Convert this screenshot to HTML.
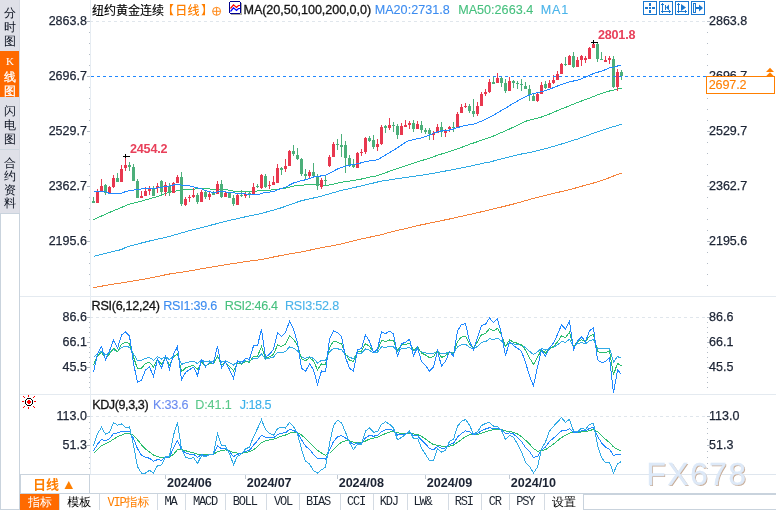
<!DOCTYPE html>
<html><head><meta charset="utf-8"><style>
*{margin:0;padding:0;box-sizing:border-box}
body{width:776px;height:510px;overflow:hidden;background:#fff;position:relative;font-family:'Liberation Sans','Noto Sans CJK SC',sans-serif;}
.t{position:absolute;white-space:nowrap;line-height:16px}
</style></head><body>

<div style="position:absolute;left:0;top:0;width:20px;height:213px;background:#dfe0e8"></div>
<div style="position:absolute;left:19px;top:0;width:1px;height:213px;background:#d6d9e2"></div>
<div style="position:absolute;left:0;top:51px;width:19px;height:46px;background:#ff6a00"></div>
<div style="position:absolute;left:0;top:149px;width:19px;height:1px;background:#cdd6de"></div>
<div style="position:absolute;left:0;top:213px;width:20px;height:297px;border:1px solid #c9d3dd;background:#fff"></div>
<div class="t" style="left:0px;top:6px;width:20px;text-align:center;font-size:12px;line-height:14px;color:#0c1220;font-family:'Liberation Sans','WenQuanYi Zen Hei','Noto Sans CJK SC',sans-serif">分<br>时<br>图</div><div class="t" style="left:0px;top:55.5px;width:20px;text-align:center;font-size:12px;line-height:14px;color:#ffffff;font-family:'Liberation Sans','WenQuanYi Zen Hei','Noto Sans CJK SC',sans-serif"><span style="font-family:Liberation Serif,serif;font-size:11px;position:relative;top:-1.5px">K</span><br><span style="-webkit-text-stroke:0.3px #fff">线</span><br><span style="-webkit-text-stroke:0.3px #fff">图</span></div><div class="t" style="left:0px;top:103.5px;width:20px;text-align:center;font-size:12px;line-height:14px;color:#0c1220;font-family:'Liberation Sans','WenQuanYi Zen Hei','Noto Sans CJK SC',sans-serif">闪<br>电<br>图</div><div class="t" style="left:0px;top:157px;width:20px;text-align:center;font-size:12px;line-height:13.3px;color:#0c1220;font-family:'Liberation Sans','WenQuanYi Zen Hei','Noto Sans CJK SC',sans-serif">合<br>约<br>资<br>料</div>
<svg width="776" height="510" viewBox="0 0 776 510" style="position:absolute;left:0;top:0"><g shape-rendering="crispEdges"><rect x="20" y="296" width="756" height="1" fill="#e4eaf0"/><rect x="20" y="394" width="756" height="1" fill="#e4eaf0"/><rect x="20" y="474" width="756" height="1" fill="#dfe6ee"/><rect x="90" y="0" width="1" height="474" fill="#e6ecf2"/><rect x="87" y="21" width="3" height="1" fill="#b4bcc6"/><rect x="707" y="21" width="3" height="1" fill="#b4bcc6"/><rect x="89" y="32" width="1" height="1" fill="#b4bcc6"/><rect x="707" y="32" width="1" height="1" fill="#b4bcc6"/><rect x="89" y="43" width="1" height="1" fill="#b4bcc6"/><rect x="707" y="43" width="1" height="1" fill="#b4bcc6"/><rect x="89" y="54" width="1" height="1" fill="#b4bcc6"/><rect x="707" y="54" width="1" height="1" fill="#b4bcc6"/><rect x="89" y="65" width="1" height="1" fill="#b4bcc6"/><rect x="707" y="65" width="1" height="1" fill="#b4bcc6"/><rect x="87" y="76" width="3" height="1" fill="#b4bcc6"/><rect x="707" y="76" width="3" height="1" fill="#b4bcc6"/><rect x="89" y="87" width="1" height="1" fill="#b4bcc6"/><rect x="707" y="87" width="1" height="1" fill="#b4bcc6"/><rect x="89" y="98" width="1" height="1" fill="#b4bcc6"/><rect x="707" y="98" width="1" height="1" fill="#b4bcc6"/><rect x="89" y="109" width="1" height="1" fill="#b4bcc6"/><rect x="707" y="109" width="1" height="1" fill="#b4bcc6"/><rect x="89" y="120" width="1" height="1" fill="#b4bcc6"/><rect x="707" y="120" width="1" height="1" fill="#b4bcc6"/><rect x="87" y="131" width="3" height="1" fill="#b4bcc6"/><rect x="707" y="131" width="3" height="1" fill="#b4bcc6"/><rect x="89" y="142" width="1" height="1" fill="#b4bcc6"/><rect x="707" y="142" width="1" height="1" fill="#b4bcc6"/><rect x="89" y="153" width="1" height="1" fill="#b4bcc6"/><rect x="707" y="153" width="1" height="1" fill="#b4bcc6"/><rect x="89" y="164" width="1" height="1" fill="#b4bcc6"/><rect x="707" y="164" width="1" height="1" fill="#b4bcc6"/><rect x="89" y="175" width="1" height="1" fill="#b4bcc6"/><rect x="707" y="175" width="1" height="1" fill="#b4bcc6"/><rect x="87" y="186" width="3" height="1" fill="#b4bcc6"/><rect x="707" y="186" width="3" height="1" fill="#b4bcc6"/><rect x="89" y="197" width="1" height="1" fill="#b4bcc6"/><rect x="707" y="197" width="1" height="1" fill="#b4bcc6"/><rect x="89" y="208" width="1" height="1" fill="#b4bcc6"/><rect x="707" y="208" width="1" height="1" fill="#b4bcc6"/><rect x="89" y="219" width="1" height="1" fill="#b4bcc6"/><rect x="707" y="219" width="1" height="1" fill="#b4bcc6"/><rect x="89" y="230" width="1" height="1" fill="#b4bcc6"/><rect x="707" y="230" width="1" height="1" fill="#b4bcc6"/><rect x="87" y="241" width="3" height="1" fill="#b4bcc6"/><rect x="707" y="241" width="3" height="1" fill="#b4bcc6"/><rect x="89" y="252" width="1" height="1" fill="#b4bcc6"/><rect x="707" y="252" width="1" height="1" fill="#b4bcc6"/><rect x="89" y="263" width="1" height="1" fill="#b4bcc6"/><rect x="707" y="263" width="1" height="1" fill="#b4bcc6"/><rect x="89" y="274" width="1" height="1" fill="#b4bcc6"/><rect x="707" y="274" width="1" height="1" fill="#b4bcc6"/><rect x="89" y="285" width="1" height="1" fill="#b4bcc6"/><rect x="707" y="285" width="1" height="1" fill="#b4bcc6"/><rect x="87" y="317" width="3" height="1" fill="#b4bcc6"/><rect x="707" y="317" width="3" height="1" fill="#b4bcc6"/><rect x="87" y="342" width="3" height="1" fill="#b4bcc6"/><rect x="707" y="342" width="3" height="1" fill="#b4bcc6"/><rect x="87" y="367" width="3" height="1" fill="#b4bcc6"/><rect x="707" y="367" width="3" height="1" fill="#b4bcc6"/><rect x="89" y="322" width="1" height="1" fill="#b4bcc6"/><rect x="707" y="322" width="1" height="1" fill="#b4bcc6"/><rect x="89" y="327" width="1" height="1" fill="#b4bcc6"/><rect x="707" y="327" width="1" height="1" fill="#b4bcc6"/><rect x="89" y="332" width="1" height="1" fill="#b4bcc6"/><rect x="707" y="332" width="1" height="1" fill="#b4bcc6"/><rect x="89" y="337" width="1" height="1" fill="#b4bcc6"/><rect x="707" y="337" width="1" height="1" fill="#b4bcc6"/><rect x="89" y="347" width="1" height="1" fill="#b4bcc6"/><rect x="707" y="347" width="1" height="1" fill="#b4bcc6"/><rect x="89" y="352" width="1" height="1" fill="#b4bcc6"/><rect x="707" y="352" width="1" height="1" fill="#b4bcc6"/><rect x="89" y="357" width="1" height="1" fill="#b4bcc6"/><rect x="707" y="357" width="1" height="1" fill="#b4bcc6"/><rect x="89" y="362" width="1" height="1" fill="#b4bcc6"/><rect x="707" y="362" width="1" height="1" fill="#b4bcc6"/><rect x="89" y="372" width="1" height="1" fill="#b4bcc6"/><rect x="707" y="372" width="1" height="1" fill="#b4bcc6"/><rect x="89" y="377" width="1" height="1" fill="#b4bcc6"/><rect x="707" y="377" width="1" height="1" fill="#b4bcc6"/><rect x="89" y="382" width="1" height="1" fill="#b4bcc6"/><rect x="707" y="382" width="1" height="1" fill="#b4bcc6"/><rect x="89" y="387" width="1" height="1" fill="#b4bcc6"/><rect x="707" y="387" width="1" height="1" fill="#b4bcc6"/><rect x="87" y="416" width="3" height="1" fill="#b4bcc6"/><rect x="707" y="416" width="3" height="1" fill="#b4bcc6"/><rect x="87" y="445" width="3" height="1" fill="#b4bcc6"/><rect x="707" y="445" width="3" height="1" fill="#b4bcc6"/><rect x="89" y="422" width="1" height="1" fill="#b4bcc6"/><rect x="707" y="422" width="1" height="1" fill="#b4bcc6"/><rect x="89" y="428" width="1" height="1" fill="#b4bcc6"/><rect x="707" y="428" width="1" height="1" fill="#b4bcc6"/><rect x="89" y="433" width="1" height="1" fill="#b4bcc6"/><rect x="707" y="433" width="1" height="1" fill="#b4bcc6"/><rect x="89" y="439" width="1" height="1" fill="#b4bcc6"/><rect x="707" y="439" width="1" height="1" fill="#b4bcc6"/><rect x="89" y="451" width="1" height="1" fill="#b4bcc6"/><rect x="707" y="451" width="1" height="1" fill="#b4bcc6"/><rect x="89" y="457" width="1" height="1" fill="#b4bcc6"/><rect x="707" y="457" width="1" height="1" fill="#b4bcc6"/><rect x="89" y="463" width="1" height="1" fill="#b4bcc6"/><rect x="707" y="463" width="1" height="1" fill="#b4bcc6"/><rect x="89" y="468" width="1" height="1" fill="#b4bcc6"/><rect x="707" y="468" width="1" height="1" fill="#b4bcc6"/><rect x="165" y="475" width="1" height="4" fill="#c0c8d2"/><rect x="245" y="475" width="1" height="4" fill="#c0c8d2"/><rect x="337" y="475" width="1" height="4" fill="#c0c8d2"/><rect x="425" y="475" width="1" height="4" fill="#c0c8d2"/><rect x="509" y="475" width="1" height="4" fill="#c0c8d2"/></g><g shape-rendering="crispEdges" stroke="#e0e6ec" stroke-dasharray="3,3"><line x1="90" y1="21.5" x2="705" y2="21.5"/><line x1="90" y1="317.5" x2="705" y2="317.5"/><line x1="90" y1="416.5" x2="705" y2="416.5"/></g><g shape-rendering="crispEdges"><polyline points="93.5,287.6 97.5,286.9 101.5,286.2 105.5,285.4 109.5,284.8 113.5,284.1 117.5,283.5 121.5,282.9 125.5,282.3 129.5,281.7 133.5,281.0 137.5,280.3 141.5,279.6 145.5,278.9 149.5,278.2 153.5,277.3 157.5,276.5 161.5,275.7 165.5,274.8 169.5,274.0 173.5,273.4 177.5,272.8 181.5,272.2 185.5,271.6 189.5,270.9 193.5,270.2 197.5,269.5 201.5,268.8 205.5,268.1 209.5,267.4 213.5,266.8 217.5,266.1 221.5,265.5 225.5,264.8 229.5,264.1 233.5,263.5 237.5,262.9 241.5,262.3 245.5,261.7 249.5,261.1 253.5,260.6 257.5,260.1 261.5,259.5 265.5,258.7 269.5,257.9 273.5,257.0 277.5,256.2 281.5,255.4 285.5,254.7 289.5,254.0 293.5,253.3 297.5,252.6 301.5,251.9 305.5,251.1 309.5,250.2 313.5,249.4 317.5,248.5 321.5,247.7 325.5,247.0 329.5,246.2 333.5,245.5 337.5,244.8 341.5,243.9 345.5,242.9 349.5,241.9 353.5,240.9 357.5,239.9 361.5,238.9 365.5,238.1 369.5,237.2 373.5,236.4 377.5,235.5 381.5,234.6 385.5,233.5 389.5,232.4 393.5,231.4 397.5,230.4 401.5,229.5 405.5,228.6 409.5,227.6 413.5,226.7 417.5,225.7 421.5,224.8 425.5,224.0 429.5,223.1 433.5,222.3 437.5,221.5 441.5,220.7 445.5,219.8 449.5,219.0 453.5,218.1 457.5,217.2 461.5,216.3 465.5,215.4 469.5,214.5 473.5,213.6 477.5,212.7 481.5,211.8 485.5,210.8 489.5,209.8 493.5,208.9 497.5,207.9 501.5,207.0 505.5,206.0 509.5,205.0 513.5,204.0 517.5,202.9 521.5,201.8 525.5,200.7 529.5,199.5 533.5,198.4 537.5,197.3 541.5,196.3 545.5,195.3 549.5,194.4 553.5,193.4 557.5,192.5 561.5,191.5 565.5,190.6 569.5,189.6 573.5,188.6 577.5,187.4 581.5,186.3 585.5,185.2 589.5,184.1 593.5,183.0 597.5,181.8 601.5,180.6 605.5,179.1 609.5,177.6 613.5,176.0 617.5,174.5 621.5,173.0" fill="none" stroke="#f5823a" stroke-width="1" /><polyline points="93.5,256.3 97.5,255.3 101.5,254.3 105.5,253.3 109.5,252.4 113.5,251.4 117.5,250.5 121.5,249.5 125.5,247.5 129.5,246.2 133.5,245.2 137.5,244.1 141.5,243.0 145.5,242.0 149.5,241.0 153.5,240.1 157.5,239.2 161.5,238.3 165.5,237.4 169.5,236.4 173.5,235.2 177.5,234.1 181.5,232.9 185.5,231.8 189.5,230.6 193.5,229.6 197.5,228.6 201.5,227.6 205.5,226.6 209.5,225.5 213.5,224.5 217.5,223.5 221.5,222.4 225.5,221.4 229.5,220.4 233.5,219.5 237.5,218.6 241.5,217.7 245.5,216.8 249.5,215.9 253.5,215.1 257.5,214.3 261.5,213.4 265.5,212.3 269.5,211.2 273.5,210.1 277.5,208.9 281.5,207.7 285.5,206.3 289.5,204.9 293.5,203.4 297.5,202.0 301.5,200.7 305.5,199.8 309.5,198.9 313.5,198.0 317.5,197.1 321.5,196.1 325.5,194.9 329.5,193.8 333.5,192.6 337.5,191.5 341.5,190.4 345.5,189.5 349.5,188.6 353.5,187.7 357.5,186.8 361.5,185.9 365.5,184.9 369.5,183.9 373.5,183.0 377.5,182.0 381.5,181.1 385.5,180.5 389.5,179.9 393.5,179.3 397.5,178.7 401.5,178.1 405.5,177.6 409.5,177.0 413.5,176.4 417.5,175.8 421.5,175.2 425.5,174.6 429.5,174.0 433.5,173.2 437.5,172.5 441.5,171.8 445.5,171.0 449.5,170.3 453.5,169.5 457.5,168.7 461.5,167.9 465.5,167.1 469.5,166.3 473.5,165.4 477.5,164.5 481.5,163.6 485.5,162.7 489.5,162.2 493.5,161.0 497.5,159.9 501.5,158.9 505.5,157.9 509.5,156.8 513.5,155.8 517.5,154.9 521.5,154.0 525.5,153.3 529.5,152.5 533.5,151.7 537.5,150.7 541.5,149.6 545.5,148.6 549.5,147.5 553.5,146.4 557.5,145.2 561.5,144.0 565.5,142.8 569.5,141.4 573.5,140.2 577.5,139.1 581.5,137.6 585.5,136.2 589.5,134.7 593.5,133.2 597.5,131.8 601.5,130.5 605.5,129.1 609.5,127.7 613.5,126.7 617.5,125.5 621.5,124.3" fill="none" stroke="#2eaae4" stroke-width="1" /><polyline points="93.5,219.6 97.5,217.8 101.5,216.0 105.5,214.2 109.5,212.4 113.5,210.7 117.5,209.1 121.5,207.4 125.5,205.7 129.5,204.2 133.5,203.2 137.5,202.2 141.5,201.1 145.5,199.9 149.5,198.8 153.5,197.6 157.5,196.5 161.5,195.0 165.5,193.5 169.5,192.3 173.5,191.4 177.5,190.8 181.5,190.2 185.5,189.5 189.5,189.2 193.5,189.1 197.5,188.9 201.5,188.4 205.5,188.6 209.5,189.0 213.5,189.1 217.5,189.1 221.5,189.1 225.5,189.1 229.5,190.5 233.5,191.1 237.5,191.4 241.5,191.2 245.5,191.2 249.5,191.2 253.5,191.2 257.5,191.0 261.5,190.7 265.5,190.4 269.5,190.1 273.5,189.8 277.5,189.3 281.5,188.7 285.5,188.1 289.5,187.1 293.5,186.1 297.5,185.5 301.5,185.2 305.5,184.9 309.5,184.6 313.5,184.5 317.5,184.6 321.5,184.9 325.5,185.2 329.5,185.0 333.5,184.2 337.5,183.2 341.5,182.2 345.5,181.5 349.5,181.1 353.5,180.5 357.5,179.8 361.5,179.0 365.5,178.1 369.5,177.1 373.5,176.4 377.5,175.7 381.5,174.2 385.5,172.7 389.5,171.3 393.5,169.9 397.5,168.6 401.5,167.3 405.5,165.8 409.5,164.4 413.5,163.1 417.5,161.9 421.5,160.6 425.5,159.4 429.5,158.1 433.5,156.7 437.5,155.3 441.5,154.0 445.5,152.8 449.5,151.4 453.5,150.3 457.5,148.8 461.5,147.4 465.5,145.8 469.5,144.3 473.5,143.0 477.5,141.7 481.5,140.2 485.5,138.7 489.5,137.4 493.5,136.0 497.5,134.3 501.5,132.5 505.5,130.8 509.5,129.0 513.5,127.1 517.5,125.1 521.5,123.2 525.5,121.3 529.5,120.1 533.5,119.2 537.5,118.2 541.5,117.0 545.5,115.6 549.5,114.0 553.5,112.2 557.5,110.6 561.5,108.9 565.5,107.4 569.5,105.7 573.5,104.1 577.5,102.5 581.5,101.0 585.5,99.6 589.5,98.1 593.5,96.5 597.5,94.9 601.5,93.6 605.5,92.3 609.5,91.0 613.5,90.2 617.5,89.2 621.5,88.1" fill="none" stroke="#30be74" stroke-width="1" /></g><g shape-rendering="crispEdges"><rect x="93" y="197" width="1" height="6" fill="#4caf7a"/><rect x="92" y="201" width="3" height="2" fill="#4caf7a"/><rect x="97" y="189" width="1" height="14" fill="#e8384f"/><rect x="96" y="192" width="3" height="11" fill="#e8384f"/><rect x="101" y="179" width="1" height="13" fill="#e8384f"/><rect x="100" y="186" width="3" height="6" fill="#e8384f"/><rect x="105" y="184" width="1" height="11" fill="#4caf7a"/><rect x="104" y="185" width="3" height="8" fill="#4caf7a"/><rect x="109" y="186" width="1" height="7" fill="#e8384f"/><rect x="108" y="187" width="3" height="6" fill="#e8384f"/><rect x="113" y="175" width="1" height="13" fill="#e8384f"/><rect x="112" y="178" width="3" height="9" fill="#e8384f"/><rect x="117" y="173" width="1" height="9" fill="#4caf7a"/><rect x="116" y="178" width="3" height="4" fill="#4caf7a"/><rect x="121" y="165" width="1" height="17" fill="#e8384f"/><rect x="120" y="169" width="3" height="13" fill="#e8384f"/><rect x="125" y="156" width="1" height="15" fill="#e8384f"/><rect x="124" y="165" width="3" height="3" fill="#e8384f"/><rect x="129" y="162" width="1" height="9" fill="#4caf7a"/><rect x="128" y="165" width="3" height="2" fill="#4caf7a"/><rect x="133" y="164" width="1" height="17" fill="#4caf7a"/><rect x="132" y="167" width="3" height="14" fill="#4caf7a"/><rect x="137" y="179" width="1" height="19" fill="#4caf7a"/><rect x="136" y="181" width="3" height="17" fill="#4caf7a"/><rect x="141" y="191" width="1" height="7" fill="#e8384f"/><rect x="140" y="196" width="3" height="2" fill="#e8384f"/><rect x="145" y="187" width="1" height="9" fill="#e8384f"/><rect x="144" y="191" width="3" height="5" fill="#e8384f"/><rect x="149" y="186" width="1" height="9" fill="#e8384f"/><rect x="148" y="189" width="3" height="2" fill="#e8384f"/><rect x="153" y="186" width="1" height="10" fill="#4caf7a"/><rect x="152" y="188" width="3" height="8" fill="#4caf7a"/><rect x="157" y="183" width="1" height="10" fill="#e8384f"/><rect x="156" y="186" width="3" height="2" fill="#e8384f"/><rect x="161" y="180" width="1" height="14" fill="#4caf7a"/><rect x="160" y="181" width="3" height="11" fill="#4caf7a"/><rect x="165" y="182" width="1" height="14" fill="#e8384f"/><rect x="164" y="185" width="3" height="7" fill="#e8384f"/><rect x="169" y="183" width="1" height="13" fill="#4caf7a"/><rect x="168" y="186" width="3" height="6" fill="#4caf7a"/><rect x="173" y="182" width="1" height="11" fill="#e8384f"/><rect x="172" y="183" width="3" height="10" fill="#e8384f"/><rect x="177" y="175" width="1" height="8" fill="#e8384f"/><rect x="176" y="177" width="3" height="6" fill="#e8384f"/><rect x="181" y="172" width="1" height="34" fill="#4caf7a"/><rect x="180" y="177" width="3" height="27" fill="#4caf7a"/><rect x="185" y="197" width="1" height="9" fill="#e8384f"/><rect x="184" y="199" width="3" height="6" fill="#e8384f"/><rect x="189" y="195" width="1" height="7" fill="#e8384f"/><rect x="188" y="197" width="3" height="1" fill="#e8384f"/><rect x="193" y="188" width="1" height="10" fill="#e8384f"/><rect x="192" y="195" width="3" height="2" fill="#e8384f"/><rect x="197" y="193" width="1" height="11" fill="#4caf7a"/><rect x="196" y="195" width="3" height="7" fill="#4caf7a"/><rect x="201" y="190" width="1" height="12" fill="#e8384f"/><rect x="200" y="192" width="3" height="10" fill="#e8384f"/><rect x="205" y="191" width="1" height="8" fill="#4caf7a"/><rect x="204" y="192" width="3" height="5" fill="#4caf7a"/><rect x="209" y="192" width="1" height="8" fill="#e8384f"/><rect x="208" y="194" width="3" height="3" fill="#e8384f"/><rect x="213" y="191" width="1" height="4" fill="#4caf7a"/><rect x="212" y="192" width="3" height="3" fill="#4caf7a"/><rect x="217" y="181" width="1" height="13" fill="#e8384f"/><rect x="216" y="184" width="3" height="10" fill="#e8384f"/><rect x="221" y="180" width="1" height="18" fill="#4caf7a"/><rect x="220" y="184" width="3" height="13" fill="#4caf7a"/><rect x="225" y="192" width="1" height="5" fill="#e8384f"/><rect x="224" y="193" width="3" height="4" fill="#e8384f"/><rect x="229" y="192" width="1" height="6" fill="#4caf7a"/><rect x="228" y="193" width="3" height="5" fill="#4caf7a"/><rect x="233" y="195" width="1" height="11" fill="#4caf7a"/><rect x="232" y="198" width="3" height="6" fill="#4caf7a"/><rect x="237" y="194" width="1" height="11" fill="#e8384f"/><rect x="236" y="195" width="3" height="10" fill="#e8384f"/><rect x="241" y="190" width="1" height="7" fill="#4caf7a"/><rect x="240" y="195" width="3" height="1" fill="#4caf7a"/><rect x="245" y="192" width="1" height="6" fill="#e8384f"/><rect x="244" y="194" width="3" height="2" fill="#e8384f"/><rect x="249" y="192" width="1" height="6" fill="#4caf7a"/><rect x="248" y="193" width="3" height="1" fill="#4caf7a"/><rect x="253" y="183" width="1" height="11" fill="#e8384f"/><rect x="252" y="187" width="3" height="7" fill="#e8384f"/><rect x="257" y="184" width="1" height="4" fill="#4caf7a"/><rect x="256" y="186" width="3" height="1" fill="#4caf7a"/><rect x="261" y="174" width="1" height="15" fill="#e8384f"/><rect x="260" y="175" width="3" height="13" fill="#e8384f"/><rect x="265" y="174" width="1" height="14" fill="#4caf7a"/><rect x="264" y="176" width="3" height="11" fill="#4caf7a"/><rect x="269" y="181" width="1" height="8" fill="#e8384f"/><rect x="268" y="185" width="3" height="1" fill="#e8384f"/><rect x="273" y="176" width="1" height="9" fill="#e8384f"/><rect x="272" y="182" width="3" height="3" fill="#e8384f"/><rect x="277" y="164" width="1" height="19" fill="#e8384f"/><rect x="276" y="168" width="3" height="15" fill="#e8384f"/><rect x="281" y="167" width="1" height="8" fill="#4caf7a"/><rect x="280" y="168" width="3" height="2" fill="#4caf7a"/><rect x="285" y="159" width="1" height="13" fill="#e8384f"/><rect x="284" y="166" width="3" height="3" fill="#e8384f"/><rect x="289" y="150" width="1" height="16" fill="#e8384f"/><rect x="288" y="151" width="3" height="15" fill="#e8384f"/><rect x="293" y="145" width="1" height="11" fill="#4caf7a"/><rect x="292" y="151" width="3" height="3" fill="#4caf7a"/><rect x="297" y="148" width="1" height="12" fill="#4caf7a"/><rect x="296" y="155" width="3" height="4" fill="#4caf7a"/><rect x="301" y="158" width="1" height="18" fill="#4caf7a"/><rect x="300" y="159" width="3" height="15" fill="#4caf7a"/><rect x="305" y="169" width="1" height="10" fill="#4caf7a"/><rect x="304" y="174" width="3" height="2" fill="#4caf7a"/><rect x="309" y="170" width="1" height="8" fill="#e8384f"/><rect x="308" y="172" width="3" height="4" fill="#e8384f"/><rect x="313" y="163" width="1" height="13" fill="#4caf7a"/><rect x="312" y="172" width="3" height="4" fill="#4caf7a"/><rect x="317" y="174" width="1" height="16" fill="#4caf7a"/><rect x="316" y="176" width="3" height="10" fill="#4caf7a"/><rect x="321" y="178" width="1" height="11" fill="#e8384f"/><rect x="320" y="180" width="3" height="7" fill="#e8384f"/><rect x="325" y="175" width="1" height="10" fill="#4caf7a"/><rect x="324" y="180" width="3" height="1" fill="#4caf7a"/><rect x="329" y="155" width="1" height="12" fill="#e8384f"/><rect x="328" y="157" width="3" height="9" fill="#e8384f"/><rect x="333" y="142" width="1" height="15" fill="#e8384f"/><rect x="332" y="144" width="3" height="13" fill="#e8384f"/><rect x="337" y="139" width="1" height="11" fill="#4caf7a"/><rect x="336" y="144" width="3" height="1" fill="#4caf7a"/><rect x="341" y="134" width="1" height="23" fill="#4caf7a"/><rect x="340" y="145" width="3" height="2" fill="#4caf7a"/><rect x="345" y="141" width="1" height="32" fill="#4caf7a"/><rect x="344" y="145" width="3" height="13" fill="#4caf7a"/><rect x="349" y="155" width="1" height="12" fill="#4caf7a"/><rect x="348" y="158" width="3" height="7" fill="#4caf7a"/><rect x="353" y="159" width="1" height="9" fill="#4caf7a"/><rect x="352" y="165" width="3" height="2" fill="#4caf7a"/><rect x="357" y="152" width="1" height="16" fill="#e8384f"/><rect x="356" y="153" width="3" height="15" fill="#e8384f"/><rect x="361" y="149" width="1" height="7" fill="#e8384f"/><rect x="360" y="152" width="3" height="1" fill="#e8384f"/><rect x="365" y="137" width="1" height="17" fill="#e8384f"/><rect x="364" y="138" width="3" height="14" fill="#e8384f"/><rect x="369" y="136" width="1" height="6" fill="#4caf7a"/><rect x="368" y="138" width="3" height="3" fill="#4caf7a"/><rect x="373" y="135" width="1" height="14" fill="#4caf7a"/><rect x="372" y="140" width="3" height="7" fill="#4caf7a"/><rect x="377" y="139" width="1" height="12" fill="#e8384f"/><rect x="376" y="144" width="3" height="3" fill="#e8384f"/><rect x="381" y="125" width="1" height="20" fill="#e8384f"/><rect x="380" y="127" width="3" height="17" fill="#e8384f"/><rect x="385" y="125" width="1" height="8" fill="#4caf7a"/><rect x="384" y="126" width="3" height="2" fill="#4caf7a"/><rect x="389" y="118" width="1" height="12" fill="#e8384f"/><rect x="388" y="125" width="3" height="3" fill="#e8384f"/><rect x="393" y="122" width="1" height="10" fill="#4caf7a"/><rect x="392" y="125" width="3" height="1" fill="#4caf7a"/><rect x="397" y="124" width="1" height="15" fill="#4caf7a"/><rect x="396" y="126" width="3" height="9" fill="#4caf7a"/><rect x="401" y="123" width="1" height="12" fill="#e8384f"/><rect x="400" y="126" width="3" height="9" fill="#e8384f"/><rect x="405" y="120" width="1" height="7" fill="#e8384f"/><rect x="404" y="125" width="3" height="2" fill="#e8384f"/><rect x="409" y="121" width="1" height="8" fill="#e8384f"/><rect x="408" y="123" width="3" height="2" fill="#e8384f"/><rect x="413" y="120" width="1" height="12" fill="#4caf7a"/><rect x="412" y="123" width="3" height="6" fill="#4caf7a"/><rect x="417" y="121" width="1" height="8" fill="#e8384f"/><rect x="416" y="124" width="3" height="5" fill="#e8384f"/><rect x="421" y="121" width="1" height="12" fill="#4caf7a"/><rect x="420" y="125" width="3" height="5" fill="#4caf7a"/><rect x="425" y="128" width="1" height="6" fill="#4caf7a"/><rect x="424" y="130" width="3" height="2" fill="#4caf7a"/><rect x="429" y="128" width="1" height="12" fill="#4caf7a"/><rect x="428" y="130" width="3" height="4" fill="#4caf7a"/><rect x="433" y="131" width="1" height="9" fill="#e8384f"/><rect x="432" y="133" width="3" height="2" fill="#e8384f"/><rect x="437" y="124" width="1" height="9" fill="#e8384f"/><rect x="436" y="127" width="3" height="6" fill="#e8384f"/><rect x="441" y="122" width="1" height="15" fill="#4caf7a"/><rect x="440" y="127" width="3" height="5" fill="#4caf7a"/><rect x="445" y="129" width="1" height="8" fill="#e8384f"/><rect x="444" y="131" width="3" height="2" fill="#e8384f"/><rect x="449" y="126" width="1" height="6" fill="#e8384f"/><rect x="448" y="127" width="3" height="2" fill="#e8384f"/><rect x="453" y="122" width="1" height="10" fill="#4caf7a"/><rect x="452" y="127" width="3" height="1" fill="#4caf7a"/><rect x="457" y="112" width="1" height="16" fill="#e8384f"/><rect x="456" y="114" width="3" height="14" fill="#e8384f"/><rect x="461" y="104" width="1" height="9" fill="#e8384f"/><rect x="460" y="107" width="3" height="6" fill="#e8384f"/><rect x="465" y="103" width="1" height="5" fill="#e8384f"/><rect x="464" y="106" width="3" height="1" fill="#e8384f"/><rect x="469" y="104" width="1" height="9" fill="#4caf7a"/><rect x="468" y="106" width="3" height="5" fill="#4caf7a"/><rect x="473" y="99" width="1" height="18" fill="#4caf7a"/><rect x="472" y="111" width="3" height="3" fill="#4caf7a"/><rect x="477" y="102" width="1" height="14" fill="#e8384f"/><rect x="476" y="106" width="3" height="8" fill="#e8384f"/><rect x="481" y="92" width="1" height="14" fill="#e8384f"/><rect x="480" y="94" width="3" height="12" fill="#e8384f"/><rect x="485" y="89" width="1" height="7" fill="#e8384f"/><rect x="484" y="92" width="3" height="2" fill="#e8384f"/><rect x="489" y="79" width="1" height="14" fill="#e8384f"/><rect x="488" y="82" width="3" height="10" fill="#e8384f"/><rect x="493" y="77" width="1" height="7" fill="#4caf7a"/><rect x="492" y="82" width="3" height="2" fill="#4caf7a"/><rect x="497" y="73" width="1" height="10" fill="#e8384f"/><rect x="496" y="78" width="3" height="5" fill="#e8384f"/><rect x="501" y="77" width="1" height="10" fill="#4caf7a"/><rect x="500" y="78" width="3" height="5" fill="#4caf7a"/><rect x="505" y="79" width="1" height="14" fill="#4caf7a"/><rect x="504" y="83" width="3" height="8" fill="#4caf7a"/><rect x="509" y="77" width="1" height="14" fill="#e8384f"/><rect x="508" y="81" width="3" height="10" fill="#e8384f"/><rect x="513" y="80" width="1" height="8" fill="#4caf7a"/><rect x="512" y="81" width="3" height="2" fill="#4caf7a"/><rect x="517" y="81" width="1" height="8" fill="#4caf7a"/><rect x="516" y="83" width="3" height="1" fill="#4caf7a"/><rect x="521" y="79" width="1" height="12" fill="#4caf7a"/><rect x="520" y="84" width="3" height="1" fill="#4caf7a"/><rect x="525" y="82" width="1" height="7" fill="#4caf7a"/><rect x="524" y="86" width="3" height="3" fill="#4caf7a"/><rect x="529" y="85" width="1" height="16" fill="#4caf7a"/><rect x="528" y="89" width="3" height="6" fill="#4caf7a"/><rect x="533" y="94" width="1" height="7" fill="#4caf7a"/><rect x="532" y="96" width="3" height="5" fill="#4caf7a"/><rect x="537" y="93" width="1" height="9" fill="#e8384f"/><rect x="536" y="94" width="3" height="7" fill="#e8384f"/><rect x="541" y="82" width="1" height="12" fill="#e8384f"/><rect x="540" y="85" width="3" height="9" fill="#e8384f"/><rect x="545" y="81" width="1" height="8" fill="#4caf7a"/><rect x="544" y="84" width="3" height="4" fill="#4caf7a"/><rect x="549" y="80" width="1" height="8" fill="#e8384f"/><rect x="548" y="83" width="3" height="5" fill="#e8384f"/><rect x="553" y="75" width="1" height="9" fill="#e8384f"/><rect x="552" y="80" width="3" height="3" fill="#e8384f"/><rect x="557" y="71" width="1" height="9" fill="#e8384f"/><rect x="556" y="74" width="3" height="6" fill="#e8384f"/><rect x="561" y="63" width="1" height="11" fill="#e8384f"/><rect x="560" y="64" width="3" height="10" fill="#e8384f"/><rect x="565" y="57" width="1" height="9" fill="#4caf7a"/><rect x="564" y="64" width="3" height="1" fill="#4caf7a"/><rect x="569" y="55" width="1" height="10" fill="#e8384f"/><rect x="568" y="56" width="3" height="9" fill="#e8384f"/><rect x="573" y="52" width="1" height="16" fill="#4caf7a"/><rect x="572" y="56" width="3" height="11" fill="#4caf7a"/><rect x="577" y="57" width="1" height="10" fill="#e8384f"/><rect x="576" y="60" width="3" height="7" fill="#e8384f"/><rect x="581" y="55" width="1" height="11" fill="#e8384f"/><rect x="580" y="56" width="3" height="4" fill="#e8384f"/><rect x="585" y="56" width="1" height="7" fill="#e8384f"/><rect x="584" y="58" width="3" height="2" fill="#e8384f"/><rect x="589" y="47" width="1" height="12" fill="#e8384f"/><rect x="588" y="48" width="3" height="11" fill="#e8384f"/><rect x="593" y="42" width="1" height="6" fill="#e8384f"/><rect x="592" y="44" width="3" height="4" fill="#e8384f"/><rect x="597" y="42" width="1" height="20" fill="#4caf7a"/><rect x="596" y="44" width="3" height="15" fill="#4caf7a"/><rect x="601" y="52" width="1" height="8" fill="#4caf7a"/><rect x="600" y="59" width="3" height="1" fill="#4caf7a"/><rect x="605" y="56" width="1" height="6" fill="#e8384f"/><rect x="604" y="60" width="3" height="2" fill="#e8384f"/><rect x="609" y="56" width="1" height="8" fill="#e8384f"/><rect x="608" y="58" width="3" height="2" fill="#e8384f"/><rect x="613" y="56" width="1" height="32" fill="#4caf7a"/><rect x="612" y="59" width="3" height="28" fill="#4caf7a"/><rect x="617" y="69" width="1" height="22" fill="#e8384f"/><rect x="616" y="72" width="3" height="15" fill="#e8384f"/><rect x="621" y="70" width="1" height="10" fill="#4caf7a"/><rect x="620" y="72" width="3" height="4" fill="#4caf7a"/></g><g shape-rendering="crispEdges"><polyline points="93.5,191.3 97.5,191.3 101.5,191.3 105.5,191.8 109.5,193.4 113.5,193.4 117.5,193.4 121.5,193.4 125.5,191.5 129.5,190.6 133.5,190.1 137.5,189.4 141.5,188.9 145.5,188.7 149.5,188.5 153.5,188.2 157.5,188.0 161.5,187.5 165.5,186.4 169.5,186.0 173.5,185.0 177.5,184.2 181.5,185.1 185.5,185.4 189.5,185.9 193.5,186.8 197.5,187.8 201.5,188.9 205.5,190.5 209.5,191.8 213.5,192.5 217.5,191.9 221.5,191.9 225.5,192.0 229.5,192.4 233.5,192.9 237.5,193.3 241.5,193.5 245.5,194.0 249.5,194.1 253.5,194.3 257.5,194.8 261.5,193.3 265.5,192.7 269.5,192.1 273.5,191.5 277.5,189.8 281.5,188.7 285.5,187.2 289.5,185.0 293.5,183.0 297.5,181.8 301.5,180.6 305.5,179.8 309.5,178.5 313.5,177.0 317.5,176.6 321.5,175.8 325.5,175.1 329.5,173.3 333.5,171.1 337.5,169.0 341.5,167.6 345.5,166.1 349.5,165.2 353.5,164.4 357.5,163.7 361.5,162.8 365.5,161.4 369.5,160.9 373.5,160.5 377.5,159.8 381.5,157.4 385.5,155.0 389.5,152.7 393.5,150.2 397.5,147.7 401.5,145.0 405.5,142.2 409.5,140.5 413.5,139.7 417.5,138.7 421.5,137.9 425.5,136.6 429.5,135.0 433.5,133.3 437.5,132.0 441.5,131.0 445.5,130.7 449.5,130.0 453.5,129.0 457.5,127.5 461.5,126.5 465.5,125.4 469.5,124.7 473.5,124.1 477.5,122.7 481.5,121.1 485.5,119.4 489.5,117.4 493.5,115.1 497.5,112.8 501.5,110.4 505.5,108.4 509.5,105.7 513.5,103.2 517.5,101.1 521.5,98.7 525.5,96.6 529.5,95.0 533.5,93.6 537.5,92.6 541.5,91.5 545.5,90.6 549.5,89.2 553.5,87.6 557.5,86.0 561.5,84.5 565.5,83.1 569.5,81.8 573.5,81.0 577.5,80.1 581.5,78.8 585.5,77.1 589.5,75.4 593.5,73.5 597.5,72.3 601.5,71.1 605.5,69.6 609.5,67.8 613.5,67.1 617.5,66.0 621.5,65.6" fill="none" stroke="#2088ff" stroke-width="1" /></g><line x1="91" y1="76.5" x2="706" y2="76.5" stroke="#2088ff" stroke-dasharray="3,3" shape-rendering="crispEdges"/><g shape-rendering="crispEdges"><rect x="123" y="156" width="7" height="1" fill="#000"/><rect x="125" y="154" width="1" height="4" fill="#000"/><rect x="591" y="42" width="7" height="1" fill="#000"/><rect x="593" y="40" width="1" height="4" fill="#000"/></g><g shape-rendering="crispEdges"><polyline points="93.5,357.5 97.5,353.4 101.5,351.6 105.5,354.8 109.5,352.7 113.5,349.8 117.5,351.5 121.5,347.5 125.5,346.4 129.5,347.2 133.5,353.8 137.5,360.6 141.5,360.2 145.5,358.2 149.5,357.5 153.5,360.2 157.5,356.7 161.5,359.0 165.5,356.5 169.5,359.7 173.5,356.3 177.5,354.2 181.5,364.5 185.5,362.6 189.5,361.9 193.5,361.3 197.5,363.6 201.5,360.1 205.5,361.9 209.5,361.0 213.5,361.2 217.5,357.3 221.5,362.2 225.5,360.8 229.5,362.7 233.5,365.0 237.5,361.4 241.5,362.0 245.5,361.0 249.5,361.1 253.5,358.4 257.5,358.4 261.5,353.8 265.5,359.0 269.5,358.2 273.5,357.1 277.5,352.2 281.5,352.9 285.5,351.6 289.5,346.8 293.5,348.2 297.5,350.9 301.5,357.3 305.5,358.3 309.5,356.8 313.5,358.4 317.5,363.0 321.5,360.3 325.5,360.6 329.5,352.1 333.5,348.3 337.5,348.8 341.5,349.6 345.5,354.5 349.5,357.6 353.5,358.4 357.5,353.6 361.5,353.2 365.5,349.0 369.5,350.3 373.5,352.9 377.5,352.1 381.5,346.9 385.5,347.3 389.5,346.5 393.5,347.0 397.5,351.3 401.5,348.5 405.5,348.2 409.5,347.5 413.5,350.5 417.5,349.0 421.5,351.9 425.5,352.8 429.5,354.0 433.5,353.5 437.5,351.2 441.5,354.0 445.5,353.4 449.5,351.9 453.5,352.6 457.5,347.0 461.5,344.7 465.5,344.3 469.5,347.4 473.5,349.1 477.5,346.3 481.5,342.3 485.5,341.7 489.5,338.7 493.5,339.6 497.5,338.1 501.5,341.0 505.5,346.2 509.5,342.9 513.5,343.9 517.5,344.5 521.5,345.2 525.5,347.6 529.5,351.3 533.5,354.6 537.5,351.8 541.5,348.4 545.5,350.0 549.5,348.2 553.5,347.0 557.5,344.9 561.5,341.6 565.5,342.3 569.5,339.4 573.5,346.2 577.5,343.8 581.5,342.6 585.5,343.7 589.5,340.6 593.5,339.5 597.5,348.1 601.5,348.9 605.5,348.8 609.5,348.1 613.5,362.1 617.5,356.6 621.5,358.3" fill="none" stroke="#30aae6" stroke-width="1" /><polyline points="93.5,365.0 97.5,356.0 101.5,352.3 105.5,358.5 109.5,354.1 113.5,348.2 117.5,351.8 121.5,344.1 125.5,342.1 129.5,343.8 133.5,357.0 137.5,368.8 141.5,368.1 145.5,363.6 149.5,362.2 153.5,367.1 157.5,359.6 161.5,363.9 165.5,358.5 169.5,364.6 173.5,357.5 177.5,353.4 181.5,371.7 185.5,368.0 189.5,366.5 193.5,365.3 197.5,369.5 201.5,362.1 205.5,365.6 209.5,363.5 213.5,364.0 217.5,355.7 221.5,365.5 225.5,362.6 229.5,366.2 233.5,370.8 237.5,362.9 241.5,364.0 245.5,361.9 249.5,362.1 253.5,356.1 257.5,356.1 261.5,346.6 265.5,358.3 269.5,356.7 273.5,354.5 277.5,344.9 281.5,346.5 285.5,344.2 289.5,335.9 293.5,339.3 297.5,345.4 301.5,358.9 305.5,360.9 309.5,357.6 313.5,360.9 317.5,369.7 321.5,363.9 325.5,364.4 329.5,347.6 333.5,341.3 337.5,342.2 341.5,344.0 345.5,354.0 349.5,360.1 353.5,361.6 357.5,351.9 361.5,351.1 365.5,343.5 369.5,346.4 373.5,351.6 377.5,350.0 381.5,340.6 385.5,341.4 389.5,340.0 393.5,341.0 397.5,350.7 401.5,345.0 405.5,344.5 409.5,343.1 413.5,350.0 417.5,346.7 421.5,353.1 425.5,355.0 429.5,357.8 433.5,356.4 437.5,350.9 441.5,357.4 445.5,355.7 449.5,352.1 453.5,353.7 457.5,341.4 461.5,337.1 465.5,336.4 469.5,343.8 473.5,347.8 477.5,341.9 481.5,334.6 485.5,333.5 489.5,328.7 493.5,330.8 497.5,328.3 501.5,335.2 505.5,346.5 509.5,339.9 513.5,342.1 517.5,343.3 521.5,344.9 525.5,350.2 529.5,357.9 533.5,364.3 537.5,357.3 541.5,349.7 545.5,352.9 549.5,349.0 553.5,346.4 557.5,342.1 561.5,335.8 565.5,337.5 569.5,332.3 573.5,346.4 577.5,342.0 581.5,339.6 585.5,342.0 589.5,336.2 593.5,334.2 597.5,351.3 601.5,352.8 605.5,352.6 609.5,350.9 613.5,374.8 617.5,363.3 621.5,366.0" fill="none" stroke="#2cbe6e" stroke-width="1" /><polyline points="93.5,372.5 97.5,353.6 101.5,346.7 105.5,359.6 109.5,350.8 113.5,340.3 117.5,348.3 121.5,335.0 125.5,331.9 129.5,335.9 133.5,363.4 137.5,382.1 141.5,380.3 145.5,370.0 149.5,366.8 153.5,376.3 157.5,359.1 161.5,367.9 165.5,356.4 169.5,369.0 173.5,354.3 177.5,346.6 181.5,379.9 185.5,372.6 189.5,369.6 193.5,367.1 197.5,375.5 201.5,359.6 205.5,366.9 209.5,362.2 213.5,363.5 217.5,345.8 221.5,368.1 225.5,361.8 229.5,369.5 233.5,378.4 237.5,360.9 241.5,363.4 245.5,358.6 249.5,359.3 253.5,345.9 257.5,345.9 261.5,329.2 265.5,357.4 269.5,354.1 273.5,349.4 277.5,332.8 281.5,336.7 285.5,332.7 289.5,321.4 293.5,329.1 297.5,342.8 301.5,368.2 305.5,371.5 309.5,363.8 313.5,369.9 317.5,384.6 321.5,370.8 325.5,371.8 329.5,339.5 333.5,330.6 337.5,332.6 341.5,336.5 345.5,357.3 349.5,368.3 353.5,371.0 357.5,350.0 361.5,348.5 365.5,334.9 369.5,341.2 373.5,352.7 377.5,349.1 381.5,331.8 385.5,333.6 389.5,331.2 393.5,333.8 397.5,356.6 401.5,343.6 405.5,342.4 409.5,339.3 413.5,355.7 417.5,347.4 421.5,361.4 425.5,365.4 429.5,371.1 433.5,366.8 437.5,351.1 441.5,366.0 445.5,361.3 449.5,351.7 453.5,355.9 457.5,330.7 461.5,324.6 465.5,323.6 469.5,341.1 473.5,349.9 477.5,337.6 481.5,325.7 485.5,324.2 489.5,318.0 493.5,322.5 497.5,318.9 501.5,334.0 505.5,355.9 509.5,341.6 513.5,345.6 517.5,348.2 521.5,351.3 525.5,362.3 529.5,376.1 533.5,385.7 537.5,367.0 541.5,350.1 545.5,356.4 549.5,348.1 553.5,342.7 557.5,334.6 561.5,325.0 565.5,328.9 569.5,321.3 573.5,349.6 577.5,341.0 581.5,336.8 585.5,341.7 589.5,330.9 593.5,327.6 597.5,359.9 601.5,362.3 605.5,361.8 609.5,357.6 613.5,393.0 617.5,370.1 621.5,374.3" fill="none" stroke="#2088ff" stroke-width="1" /><polyline points="93.5,453.3 97.5,449.5 101.5,445.7 105.5,443.8 109.5,441.9 113.5,439.1 117.5,436.8 121.5,435.1 125.5,433.3 129.5,433.6 133.5,435.2 137.5,439.7 141.5,444.9 145.5,449.1 149.5,452.1 153.5,455.1 157.5,456.6 161.5,457.8 165.5,457.6 169.5,457.4 173.5,454.3 177.5,449.7 181.5,449.6 185.5,450.7 189.5,451.9 193.5,452.7 197.5,454.2 201.5,454.4 205.5,454.8 209.5,454.7 213.5,454.6 217.5,451.6 221.5,450.7 225.5,450.0 229.5,450.6 233.5,452.6 237.5,453.1 241.5,453.2 245.5,452.6 249.5,451.8 253.5,449.7 257.5,446.7 261.5,442.8 265.5,440.9 269.5,439.8 273.5,439.2 277.5,437.7 281.5,436.2 285.5,435.0 289.5,433.2 293.5,432.3 297.5,432.5 301.5,434.9 305.5,438.6 309.5,442.2 313.5,446.3 317.5,450.3 321.5,453.1 325.5,455.1 329.5,453.5 333.5,449.5 337.5,445.3 341.5,442.1 345.5,440.7 349.5,441.0 353.5,442.2 357.5,442.4 361.5,442.7 365.5,441.0 369.5,439.1 373.5,438.1 377.5,437.2 381.5,435.4 385.5,433.5 389.5,432.1 393.5,431.5 397.5,432.7 401.5,433.4 405.5,433.6 409.5,433.2 413.5,433.9 417.5,434.5 421.5,436.4 425.5,439.0 429.5,442.1 433.5,444.7 437.5,445.3 441.5,446.2 445.5,446.8 449.5,446.1 453.5,445.1 457.5,442.4 461.5,439.4 465.5,436.6 469.5,434.9 473.5,434.8 477.5,434.4 481.5,433.2 485.5,431.8 489.5,430.4 493.5,429.8 497.5,429.3 501.5,429.5 505.5,430.9 509.5,431.6 513.5,432.4 517.5,434.0 521.5,436.6 525.5,440.2 529.5,444.0 533.5,448.5 537.5,451.1 541.5,450.8 545.5,449.6 549.5,446.9 553.5,444.0 557.5,440.8 561.5,437.5 565.5,435.3 569.5,433.1 573.5,432.7 577.5,432.6 581.5,432.0 585.5,431.6 589.5,430.5 593.5,429.5 597.5,431.8 601.5,435.4 605.5,439.3 609.5,442.6 613.5,446.9 617.5,449.3 621.5,451.1" fill="none" stroke="#2cbe6e" stroke-width="1" /><polyline points="93.5,450.8 97.5,444.2 101.5,439.6 105.5,440.6 109.5,438.7 113.5,433.6 117.5,432.9 121.5,431.4 125.5,431.3 129.5,431.4 133.5,438.4 137.5,448.7 141.5,455.2 145.5,457.4 149.5,458.2 153.5,461.2 157.5,459.6 161.5,460.2 165.5,457.2 169.5,457.0 173.5,447.9 177.5,440.6 181.5,449.5 185.5,452.9 189.5,454.1 193.5,454.3 197.5,457.3 201.5,454.8 205.5,455.5 209.5,454.6 213.5,454.4 217.5,445.6 221.5,448.9 225.5,448.6 229.5,451.6 233.5,456.6 237.5,454.2 241.5,453.4 245.5,451.4 249.5,450.2 253.5,445.3 257.5,440.6 261.5,435.1 265.5,437.2 269.5,437.7 273.5,437.9 277.5,434.7 281.5,433.2 285.5,432.7 289.5,429.6 293.5,430.4 297.5,432.9 301.5,439.6 305.5,446.1 309.5,449.4 313.5,454.5 317.5,458.4 321.5,458.7 325.5,459.1 329.5,450.2 333.5,441.5 337.5,437.0 341.5,435.6 345.5,437.9 349.5,441.5 353.5,444.6 357.5,443.0 361.5,443.1 365.5,437.7 369.5,435.4 373.5,436.2 377.5,435.4 381.5,431.7 385.5,429.6 389.5,429.4 393.5,430.4 397.5,435.1 401.5,434.7 405.5,434.0 409.5,432.4 413.5,435.4 417.5,435.7 421.5,440.2 425.5,444.1 429.5,448.3 433.5,449.9 437.5,446.4 441.5,448.2 445.5,448.0 449.5,444.5 453.5,443.2 457.5,437.1 461.5,433.4 465.5,430.9 469.5,431.6 473.5,434.7 477.5,433.6 481.5,430.6 485.5,429.0 489.5,427.7 493.5,428.6 497.5,428.3 501.5,429.7 505.5,433.8 509.5,432.9 513.5,434.0 517.5,437.4 521.5,441.6 525.5,447.5 529.5,451.5 533.5,457.4 537.5,456.5 541.5,450.3 545.5,447.0 549.5,441.6 553.5,438.1 557.5,434.5 561.5,430.9 565.5,431.0 569.5,428.5 573.5,432.1 577.5,432.3 581.5,430.7 585.5,430.9 589.5,428.4 593.5,427.5 597.5,436.2 601.5,442.8 605.5,447.1 609.5,449.2 613.5,455.6 617.5,454.2 621.5,454.5" fill="none" stroke="#2088ff" stroke-width="1" /><polyline points="93.5,445.8 97.5,433.6 101.5,427.4 105.5,434.2 109.5,432.3 113.5,422.6 117.5,425.1 121.5,424.0 125.5,427.3 129.5,427.0 133.5,444.8 137.5,466.8 141.5,473.0 145.5,473.0 149.5,470.4 153.5,473.0 157.5,465.5 161.5,465.0 165.5,456.5 169.5,456.2 173.5,435.2 177.5,422.5 181.5,449.2 185.5,457.2 189.5,458.7 193.5,457.5 197.5,463.5 201.5,455.7 205.5,456.8 209.5,454.4 213.5,454.0 217.5,433.6 221.5,445.3 225.5,445.8 229.5,453.8 233.5,464.6 237.5,456.3 241.5,453.9 245.5,449.0 249.5,447.1 253.5,436.7 257.5,428.6 261.5,419.7 265.5,429.6 269.5,433.4 273.5,435.4 277.5,428.6 281.5,427.2 285.5,428.0 289.5,422.4 293.5,426.7 297.5,433.7 301.5,449.2 305.5,461.1 309.5,463.8 313.5,470.8 317.5,473.0 321.5,469.8 325.5,467.2 329.5,443.7 333.5,425.6 337.5,420.3 341.5,422.7 345.5,432.2 349.5,442.6 353.5,449.5 357.5,444.0 361.5,444.1 365.5,431.1 369.5,427.8 373.5,432.2 377.5,431.7 381.5,424.4 385.5,421.9 389.5,424.1 393.5,428.0 397.5,439.9 401.5,437.3 405.5,434.7 409.5,430.9 413.5,438.3 417.5,438.1 421.5,447.9 425.5,454.4 429.5,460.6 433.5,460.4 437.5,448.6 441.5,452.1 445.5,450.4 449.5,441.4 453.5,439.3 457.5,426.3 461.5,421.4 465.5,419.5 469.5,425.1 473.5,434.4 477.5,431.8 481.5,425.6 485.5,423.4 489.5,422.3 493.5,426.2 497.5,426.3 501.5,430.3 505.5,439.6 509.5,435.5 513.5,437.2 517.5,444.0 521.5,451.7 525.5,462.2 529.5,466.5 533.5,473.0 537.5,467.1 541.5,449.1 545.5,441.8 549.5,431.0 553.5,426.4 557.5,421.9 561.5,417.7 565.5,422.3 569.5,419.3 573.5,430.9 577.5,431.7 581.5,428.2 585.5,429.4 589.5,424.2 593.5,423.6 597.5,445.0 601.5,457.6 605.5,462.6 609.5,462.3 613.5,472.9 617.5,463.8 621.5,461.5" fill="none" stroke="#30aae6" stroke-width="1" /></g><g shape-rendering="crispEdges"><rect x="27" y="398" width="4" height="1" fill="#000"/><rect x="27" y="405" width="4" height="1" fill="#000"/><rect x="25" y="400" width="1" height="4" fill="#000"/><rect x="32" y="400" width="1" height="4" fill="#000"/><rect x="26" y="399" width="1" height="1" fill="#000"/><rect x="31" y="399" width="1" height="1" fill="#000"/><rect x="26" y="404" width="1" height="1" fill="#000"/><rect x="31" y="404" width="1" height="1" fill="#000"/><rect x="28" y="400" width="2" height="4" fill="#ff0000"/><rect x="27" y="401" width="4" height="2" fill="#ff0000"/><rect x="28" y="395" width="1" height="2" fill="#ff0000"/><rect x="28" y="407" width="1" height="2" fill="#ff0000"/><rect x="22" y="401" width="2" height="1" fill="#ff0000"/><rect x="34" y="401" width="2" height="1" fill="#ff0000"/><rect x="23" y="396" width="1" height="1" fill="#ff0000"/><rect x="24" y="397" width="1" height="1" fill="#ff0000"/><rect x="34" y="396" width="1" height="1" fill="#ff0000"/><rect x="33" y="397" width="1" height="1" fill="#ff0000"/><rect x="23" y="407" width="1" height="1" fill="#ff0000"/><rect x="24" y="406" width="1" height="1" fill="#ff0000"/><rect x="33" y="406" width="1" height="1" fill="#ff0000"/><rect x="34" y="407" width="1" height="1" fill="#ff0000"/><rect x="231" y="3" width="11" height="12" fill="#a8a8a0"/><rect x="230" y="1" width="10" height="1" fill="#00008c"/><rect x="230" y="13" width="10" height="1" fill="#00008c"/><rect x="229" y="2" width="1" height="11" fill="#00008c"/><rect x="240" y="2" width="1" height="11" fill="#00008c"/><rect x="230" y="2" width="10" height="11" fill="#fff"/></g><polyline points="230.5,8.5 233.5,4.8 236.5,7.5 238.5,5.5 240,5.5" fill="none" stroke="#ff0000" stroke-width="1.2"/><polyline points="230.5,11.5 233.5,7.8 236.5,10.5 238.5,8.5 240,8.5" fill="none" stroke="#0000ff" stroke-width="1.2"/><circle cx="216.6" cy="11.3" r="4" fill="none" stroke="#ff8a1a" stroke-width="1"/><line x1="212.6" y1="11.3" x2="220.6" y2="11.3" stroke="#ff8a1a"/><line x1="216.6" y1="7.3" x2="216.6" y2="15.3" stroke="#ff8a1a"/><rect x="643.5" y="1.5" width="13" height="13" fill="#fff" stroke="#1a78d0" stroke-width="1"/><rect x="659.5" y="1.5" width="13" height="13" fill="#fff" stroke="#1a78d0" stroke-width="1"/><rect x="675.5" y="1.5" width="13" height="13" fill="#fff" stroke="#1a78d0" stroke-width="1"/><rect x="691.5" y="1.5" width="13" height="13" fill="#fff" stroke="#1a78d0" stroke-width="1"/><g fill="#1a78d0" shape-rendering="crispEdges"><rect x="649" y="7" width="2" height="2" fill="#1a78d0"/><rect x="645" y="7" width="3" height="2" fill="#1a78d0"/><rect x="652" y="7" width="3" height="2" fill="#1a78d0"/><rect x="649" y="3" width="2" height="3" fill="#1a78d0"/><rect x="649" y="10" width="2" height="3" fill="#1a78d0"/><rect x="662" y="4" width="1" height="9" fill="#1a78d0"/><rect x="661" y="4" width="3" height="1" fill="#1a78d0"/><rect x="662" y="3" width="1" height="1" fill="#1a78d0"/><rect x="661" y="11" width="9" height="1" fill="#1a78d0"/><rect x="669" y="10" width="1" height="3" fill="#1a78d0"/><rect x="670" y="11" width="1" height="1" fill="#1a78d0"/><rect x="665" y="5" width="1" height="5" fill="#1a78d0"/></g><polygon points="666,7.5 669,4.5 669,10.5" fill="#1a78d0"/><g fill="#1a78d0" shape-rendering="crispEdges"><rect x="678" y="4" width="1" height="9" fill="#1a78d0"/><rect x="677" y="4" width="3" height="1" fill="#1a78d0"/><rect x="678" y="3" width="1" height="1" fill="#1a78d0"/><rect x="677" y="11" width="9" height="1" fill="#1a78d0"/><rect x="685" y="10" width="1" height="3" fill="#1a78d0"/><rect x="686" y="11" width="1" height="1" fill="#1a78d0"/></g><polygon points="681,4 681,11 686,7.5" fill="#1a78d0"/><rect x="693.5" y="3.5" width="2" height="9" fill="none" stroke="#1a78d0"/><g fill="#1a78d0" shape-rendering="crispEdges"><rect x="696" y="7" width="4" height="2" fill="#1a78d0"/></g><polygon points="699,4.5 703,8 699,11.5" fill="#1a78d0"/><polygon points="770,67.8 774,72 766,72" fill="#ff7f00"/><polygon points="770,72.2 774.2,76.5 765.8,76.5" fill="#ff7f00"/></svg>
<div class="t" style="right:689.1px;top:13px;font-size:12.5px;color:#1c2434;-webkit-text-stroke:0.25px #1c2434;">2863.8</div><div class="t" style="left:709px;top:13px;font-size:12.5px;color:#1c2434;-webkit-text-stroke:0.25px #1c2434;">2863.8</div><div class="t" style="right:689.1px;top:68px;font-size:12.5px;color:#1c2434;-webkit-text-stroke:0.25px #1c2434;">2696.7</div><div class="t" style="left:709px;top:68px;font-size:12.5px;color:#1c2434;-webkit-text-stroke:0.25px #1c2434;">2696.7</div><div class="t" style="right:689.1px;top:123px;font-size:12.5px;color:#1c2434;-webkit-text-stroke:0.25px #1c2434;">2529.7</div><div class="t" style="left:709px;top:123px;font-size:12.5px;color:#1c2434;-webkit-text-stroke:0.25px #1c2434;">2529.7</div><div class="t" style="right:689.1px;top:178px;font-size:12.5px;color:#1c2434;-webkit-text-stroke:0.25px #1c2434;">2362.7</div><div class="t" style="left:709px;top:178px;font-size:12.5px;color:#1c2434;-webkit-text-stroke:0.25px #1c2434;">2362.7</div><div class="t" style="right:689.1px;top:233px;font-size:12.5px;color:#1c2434;-webkit-text-stroke:0.25px #1c2434;">2195.6</div><div class="t" style="left:709px;top:233px;font-size:12.5px;color:#1c2434;-webkit-text-stroke:0.25px #1c2434;">2195.6</div><div class="t" style="right:689.1px;top:309px;font-size:12.5px;color:#1c2434;-webkit-text-stroke:0.25px #1c2434;">86.6</div><div class="t" style="left:709px;top:309px;font-size:12.5px;color:#1c2434;-webkit-text-stroke:0.25px #1c2434;">86.6</div><div class="t" style="right:689.1px;top:334px;font-size:12.5px;color:#1c2434;-webkit-text-stroke:0.25px #1c2434;">66.1</div><div class="t" style="left:709px;top:334px;font-size:12.5px;color:#1c2434;-webkit-text-stroke:0.25px #1c2434;">66.1</div><div class="t" style="right:689.1px;top:359px;font-size:12.5px;color:#1c2434;-webkit-text-stroke:0.25px #1c2434;">45.5</div><div class="t" style="left:709px;top:359px;font-size:12.5px;color:#1c2434;-webkit-text-stroke:0.25px #1c2434;">45.5</div><div class="t" style="right:689.1px;top:408px;font-size:12.5px;color:#1c2434;-webkit-text-stroke:0.25px #1c2434;">113.0</div><div class="t" style="left:709px;top:408px;font-size:12.5px;color:#1c2434;-webkit-text-stroke:0.25px #1c2434;">113.0</div><div class="t" style="right:689.1px;top:437px;font-size:12.5px;color:#1c2434;-webkit-text-stroke:0.25px #1c2434;">51.3</div><div class="t" style="left:709px;top:437px;font-size:12.5px;color:#1c2434;-webkit-text-stroke:0.25px #1c2434;">51.3</div><div class="t" style="left:92px;top:2.5px;font-size:12px;color:#000;font-weight:400;-webkit-text-stroke:0.15px #000;">纽约黄金连续</div><div class="t" style="left:162.1px;top:2.5px;font-size:12px;color:#ff7f00;font-weight:500;">【</div><div class="t" style="left:175.2px;top:2.5px;font-size:12px;color:#ff7f00;font-weight:500;">日</div><div class="t" style="left:187.5px;top:2.5px;font-size:12px;color:#ff7f00;font-weight:500;">线</div><div class="t" style="left:201px;top:2.5px;font-size:12px;color:#ff7f00;font-weight:500;">】</div><div style="position:absolute;left:20px;top:474px;width:70px;height:20px;border:1px solid #c9d3dd;background:#fff"></div><div class="t" style="left:33px;top:476.5px;font-size:13px;color:#ff7f00;font-weight:bold;font-family:'Liberation Sans','Noto Sans CJK SC',sans-serif">日线</div><svg width="10" height="10" style="position:absolute;left:64px;top:480px"><polygon points="0.5,9 9,9 4.75,1" fill="#ff7f00"/></svg><div style="position:absolute;left:20px;top:493px;width:756px;height:1px;background:#c9d3dd"></div><div style="position:absolute;left:20px;top:494px;width:39px;height:16px;background:#ff6a00"></div><div class="t" style="left:27.90px;top:494px;height:16px;line-height:16px;font-size:12px;color:#fff;font-family:'Liberation Sans','WenQuanYi Zen Hei','Noto Sans CJK SC',sans-serif;">指标</div><div class="t" style="left:67.30px;top:494px;height:16px;line-height:16px;font-size:12px;color:#000;font-family:'Liberation Sans','WenQuanYi Zen Hei','Noto Sans CJK SC',sans-serif;">模板</div><div style="position:absolute;left:59px;top:494px;width:1px;height:16px;background:#d4dbe3"></div><div class="t" style="left:107.50px;top:494px;height:16px;line-height:16px;font-size:12px;color:#ff7f00;font-family:'Liberation Sans','WenQuanYi Zen Hei','Noto Sans CJK SC',sans-serif;"><span style="font-family:'Liberation Mono','WenQuanYi Zen Hei',monospace;letter-spacing:-1.2px">VIP</span>指标</div><div style="position:absolute;left:99px;top:494px;width:1px;height:16px;background:#d4dbe3"></div><div class="t" style="left:164.50px;top:494px;height:16px;line-height:16px;font-size:12px;color:#1c2430;font-family:'Liberation Mono','WenQuanYi Zen Hei',monospace;letter-spacing:-1.2px;">MA</div><div style="position:absolute;left:157px;top:494px;width:1px;height:16px;background:#d4dbe3"></div><div class="t" style="left:193.10px;top:494px;height:16px;line-height:16px;font-size:12px;color:#1c2430;font-family:'Liberation Mono','WenQuanYi Zen Hei',monospace;letter-spacing:-1.2px;">MACD</div><div style="position:absolute;left:185px;top:494px;width:1px;height:16px;background:#d4dbe3"></div><div class="t" style="left:232.70px;top:494px;height:16px;line-height:16px;font-size:12px;color:#1c2430;font-family:'Liberation Mono','WenQuanYi Zen Hei',monospace;letter-spacing:-1.2px;">BOLL</div><div style="position:absolute;left:225px;top:494px;width:1px;height:16px;background:#d4dbe3"></div><div class="t" style="left:274.10px;top:494px;height:16px;line-height:16px;font-size:12px;color:#1c2430;font-family:'Liberation Mono','WenQuanYi Zen Hei',monospace;letter-spacing:-1.2px;">VOL</div><div style="position:absolute;left:266px;top:494px;width:1px;height:16px;background:#d4dbe3"></div><div class="t" style="left:306.10px;top:494px;height:16px;line-height:16px;font-size:12px;color:#1c2430;font-family:'Liberation Mono','WenQuanYi Zen Hei',monospace;letter-spacing:-1.2px;">BIAS</div><div style="position:absolute;left:299px;top:494px;width:1px;height:16px;background:#d4dbe3"></div><div class="t" style="left:346.90px;top:494px;height:16px;line-height:16px;font-size:12px;color:#1c2430;font-family:'Liberation Mono','WenQuanYi Zen Hei',monospace;letter-spacing:-1.2px;">CCI</div><div style="position:absolute;left:340px;top:494px;width:1px;height:16px;background:#d4dbe3"></div><div class="t" style="left:379.70px;top:494px;height:16px;line-height:16px;font-size:12px;color:#1c2430;font-family:'Liberation Mono','WenQuanYi Zen Hei',monospace;letter-spacing:-1.2px;">KDJ</div><div style="position:absolute;left:373px;top:494px;width:1px;height:16px;background:#d4dbe3"></div><div class="t" style="left:413.50px;top:494px;height:16px;line-height:16px;font-size:12px;color:#1c2430;font-family:'Liberation Mono','WenQuanYi Zen Hei',monospace;letter-spacing:-1.2px;">LW&amp;</div><div style="position:absolute;left:407px;top:494px;width:1px;height:16px;background:#d4dbe3"></div><div class="t" style="left:454.70px;top:494px;height:16px;line-height:16px;font-size:12px;color:#1c2430;font-family:'Liberation Mono','WenQuanYi Zen Hei',monospace;letter-spacing:-1.2px;">RSI</div><div style="position:absolute;left:448px;top:494px;width:1px;height:16px;background:#d4dbe3"></div><div class="t" style="left:488.70px;top:494px;height:16px;line-height:16px;font-size:12px;color:#1c2430;font-family:'Liberation Mono','WenQuanYi Zen Hei',monospace;letter-spacing:-1.2px;">CR</div><div style="position:absolute;left:481px;top:494px;width:1px;height:16px;background:#d4dbe3"></div><div class="t" style="left:516.30px;top:494px;height:16px;line-height:16px;font-size:12px;color:#1c2430;font-family:'Liberation Mono','WenQuanYi Zen Hei',monospace;letter-spacing:-1.2px;">PSY</div><div style="position:absolute;left:509px;top:494px;width:1px;height:16px;background:#d4dbe3"></div><div class="t" style="left:551.90px;top:494px;height:16px;line-height:16px;font-size:12px;color:#000;font-family:'Liberation Sans','WenQuanYi Zen Hei','Noto Sans CJK SC',sans-serif;">设置</div><div style="position:absolute;left:544px;top:494px;width:1px;height:16px;background:#d4dbe3"></div><div style="position:absolute;left:583px;top:494px;width:200px;height:16px;border:1px solid #c9d3dd"></div><div class="t" style="left:646.6px;top:465.5px;font-size:31.5px;color:#dde9f8;letter-spacing:1.65px;-webkit-text-stroke:0.4px #dde9f8;text-shadow:1px 1px 0 #c8ad98;">FX678</div><svg width="776" height="510" style="position:absolute;left:0;top:0" font-family="Liberation Sans, sans-serif"><rect x="706.5" y="76.5" width="68" height="17" fill="#fff" stroke="#ff7f00"/><text x="243.47" y="14" font-size="12.6" fill="#141414" font-weight="normal" textLength="127.61" lengthAdjust="spacing" stroke="#141414" stroke-width="0.3">MA(20,50,100,200,0,0)</text><text x="374.67" y="14" font-size="12.6" fill="#3c8cf0" font-weight="normal" textLength="75.08" lengthAdjust="spacing" stroke="#3c8cf0" stroke-width="0.1">MA20:2731.8</text><text x="458.17" y="14" font-size="12.6" fill="#46c07e" font-weight="normal" textLength="75.00" lengthAdjust="spacing" stroke="#46c07e" stroke-width="0.1">MA50:2663.4</text><text x="540.67" y="14" font-size="12.6" fill="#4ab4ea" font-weight="normal" textLength="27.55" lengthAdjust="spacing" stroke="#4ab4ea" stroke-width="0.1">MA1</text><text x="91.57" y="310" font-size="12.6" fill="#141414" font-weight="normal" textLength="68.31" lengthAdjust="spacing" stroke="#141414" stroke-width="0.3">RSI(6,12,24)</text><text x="163.27" y="310" font-size="12.6" fill="#3c8cf0" font-weight="normal" textLength="53.89" lengthAdjust="spacing" stroke="#3c8cf0" stroke-width="0.1">RSI1:39.6</text><text x="224.67" y="310" font-size="12.6" fill="#46c07e" font-weight="normal" textLength="53.30" lengthAdjust="spacing" stroke="#46c07e" stroke-width="0.1">RSI2:46.4</text><text x="284.97" y="310" font-size="12.6" fill="#4ab4ea" font-weight="normal" textLength="54.18" lengthAdjust="spacing" stroke="#4ab4ea" stroke-width="0.1">RSI3:52.8</text><text x="92.17" y="409.3" font-size="12.6" fill="#141414" font-weight="normal" textLength="56.41" lengthAdjust="spacing" stroke="#141414" stroke-width="0.3">KDJ(9,3,3)</text><text x="152.97" y="409.3" font-size="12.6" fill="#6a8cf0" font-weight="normal" textLength="35.49" lengthAdjust="spacing" stroke="#6a8cf0" stroke-width="0.1">K:33.6</text><text x="195.17" y="409.3" font-size="12.6" fill="#5ac88a" font-weight="normal" textLength="36.65" lengthAdjust="spacing" stroke="#5ac88a" stroke-width="0.1">D:41.1</text><text x="239.80" y="409.3" font-size="12.6" fill="#3ab0ea" font-weight="normal" textLength="31.63" lengthAdjust="spacing" stroke="#3ab0ea" stroke-width="0.1">J:18.5</text><text x="129.96" y="153" font-size="12.6" fill="#e8405a" font-weight="bold" textLength="37.64" lengthAdjust="spacing">2454.2</text><text x="597.96" y="39" font-size="12.6" fill="#e8405a" font-weight="bold" textLength="37.52" lengthAdjust="spacing">2801.8</text><text x="167.06" y="487" font-size="12.6" fill="#1c2434" font-weight="bold" textLength="44.69" lengthAdjust="spacing">2024/06</text><text x="246.76" y="487" font-size="12.6" fill="#1c2434" font-weight="bold" textLength="44.79" lengthAdjust="spacing">2024/07</text><text x="338.66" y="487" font-size="12.6" fill="#1c2434" font-weight="bold" textLength="45.32" lengthAdjust="spacing">2024/08</text><text x="426.76" y="487" font-size="12.6" fill="#1c2434" font-weight="bold" textLength="45.40" lengthAdjust="spacing">2024/09</text><text x="510.66" y="487" font-size="12.6" fill="#1c2434" font-weight="bold" textLength="45.45" lengthAdjust="spacing">2024/10</text><text x="708.67" y="89" font-size="12.6" fill="#ff7f00" font-weight="normal" textLength="37.97" lengthAdjust="spacing" stroke="#ff7f00" stroke-width="0.1">2697.2</text></svg>
</body></html>
